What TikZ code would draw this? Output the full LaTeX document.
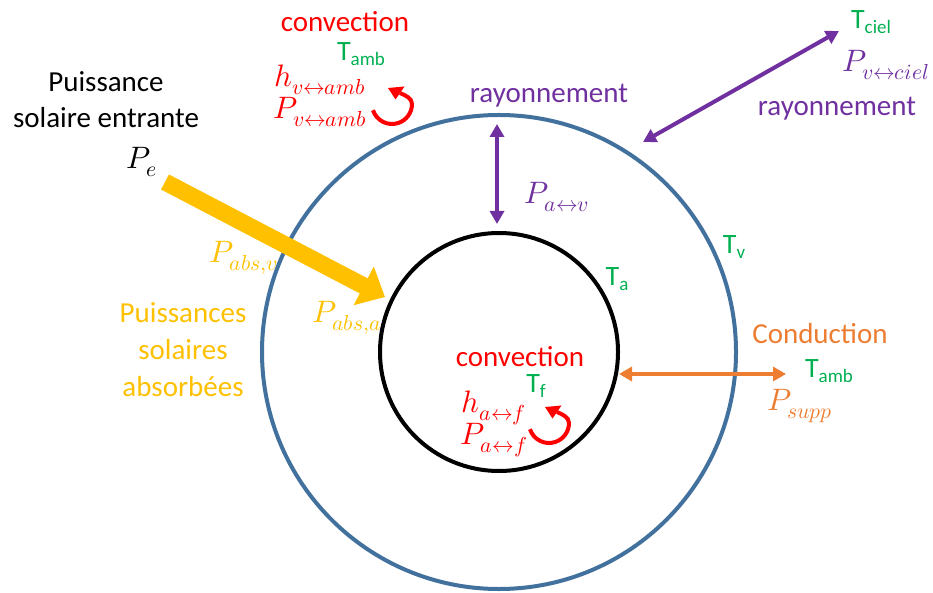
\documentclass[tikz,border=0pt]{standalone}
\usepackage{fontspec}
\usepackage{unicode-math}
\setmainfont{Carlito}
\setmathfont{Latin Modern Math}
\usetikzlibrary{arrows.meta}
\definecolor{cblue}{RGB}{65,113,156}
\definecolor{cgreen}{RGB}{0,176,80}
\definecolor{cred}{RGB}{255,0,0}
\definecolor{cpurple}{RGB}{112,48,160}
\definecolor{corange}{RGB}{237,125,49}
\definecolor{cyellow}{RGB}{255,192,0}
\newcommand\Tsb[1]{T\raisebox{-5pt}{\fontsize{19}{19}\selectfont #1}}
\newcommand\circarrow[1]{%
  \begin{scope}[shift={(#1)}]
    \draw[cred, line width=4pt] (-162:20) arc[start angle=-162, end angle=0, radius=20]
      .. controls (20,6) and (13.4,8.5) .. (8,11);
    \fill[cred] (-4,16) -- (3.5,4.5) -- (12.5,17.5) -- cycle;
  \end{scope}}
\begin{document}
\begin{tikzpicture}[x=1pt,y=1pt,
  lbl/.style={font=\fontsize{29}{36}\selectfont, inner sep=0pt, align=center},
  mth/.style={font=\fontsize{31}{33}\selectfont, inner sep=0pt},
  tlbl/.style={font=\fontsize{28}{30}\selectfont, inner sep=0pt, text=cgreen},
  dbl/.style={line width=4pt, {Triangle[width=14pt,length=13pt]}-{Triangle[width=14pt,length=13pt]}},
]
\useasboundingbox (0,0) rectangle (933,592);
% circles
\coordinate (ctr) at (499,240);
\draw[cblue, line width=4pt] (ctr) circle[radius=237];
\draw[black, line width=4pt] (ctr) circle[radius=119];

% incoming solar
\node[lbl] (pin) at (106,492) {Puissance\\solaire entrante};
\node[mth] (pe) at (142,430) {$P_e$};
\coordinate (ys) at (165,410);
\coordinate (ye) at (385,295);
\draw[cyellow, line width=17pt, -{Triangle[width=42pt,length=24pt]}] (ys) -- (ye);
\node[mth, text=cyellow] (pabsv) at (244,334) {$P_{abs,v}$};
\node[mth, text=cyellow] (pabsa) at (347,274) {$P_{abs,a}$};
\node[lbl, text=cyellow, font=\fontsize{29}{37}\selectfont] (psa) at (183,242) {Puissances\\solaires\\absorbées};

% top convection
\node[lbl, text=cred] (conv1) at (345,570) {convection};
\node[tlbl] (tamb1) at (361,538) {\Tsb{amb}};
\node[mth, text=cred] (hva) at (320,512) {$h_{v\leftrightarrow amb}$};
\node[mth, text=cred] (pva) at (320,480) {$P_{v\leftrightarrow amb}$};
\coordinate (c1) at (392,488);
\circarrow{c1}

% radiation glass-absorber
\node[lbl, text=cpurple] (ray1) at (549,496) {rayonnement};
\coordinate (r1a) at (497,468);
\coordinate (r1b) at (497,368);
\draw[cpurple, dbl] (r1a) -- (r1b);
\node[mth, text=cpurple] (pav) at (557,395) {$P_{a\leftrightarrow v}$};

% radiation sky
\coordinate (r2a) at (643,450);
\coordinate (r2b) at (839,561);
\draw[cpurple, dbl] (r2a) -- (r2b);
\node[tlbl] (tciel) at (871,570) {\Tsb{ciel}};
\node[mth, text=cpurple] (pvc) at (886,527) {$P_{v\leftrightarrow ciel}$};
\node[lbl, text=cpurple] (ray2) at (837,483) {rayonnement};

% temperatures
\node[tlbl] (tv) at (734,345) {\Tsb{v}};
\node[tlbl] (ta) at (617,313) {\Tsb{a}};

% conduction
\node[lbl, text=corange] (cond) at (820,258) {Conduction};
\coordinate (o1) at (619,218);
\coordinate (o2) at (786,218);
\draw[corange, dbl] (o1) -- (o2);
\node[tlbl] (tamb2) at (829,221) {\Tsb{amb}};
\node[mth, text=corange] (psupp) at (800,186) {$P_{supp}$};

% inner convection
\node[lbl, text=cred] (conv2) at (520,235) {convection};
\node[tlbl] (tf) at (536,206) {\Tsb{f}};
\node[mth, text=cred] (haf) at (494,184) {$h_{a\leftrightarrow f}$};
\node[mth, text=cred] (paf) at (494,152) {$P_{a\leftrightarrow f}$};
\coordinate (c2) at (549,169);
\circarrow{c2}
\end{tikzpicture}
\end{document}
